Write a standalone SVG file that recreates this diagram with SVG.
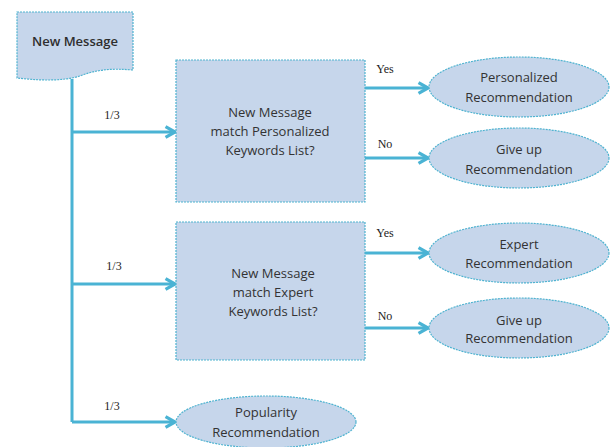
<svg xmlns="http://www.w3.org/2000/svg" width="613" height="447" viewBox="0 0 613 447">
  <style>
    .shape { fill: #c6d6eb; stroke: #4fb3d0; stroke-width: 1.2; stroke-dasharray: 2 1; }
    .txt { font-family: "Open Sans", "Liberation Sans", sans-serif; font-size: 13px; fill: #333333; text-anchor: middle; }
    .title { font-weight: 600; fill: #2e2e2e; }
    .lbl { font-family: "Liberation Serif", serif; font-size: 12px; fill: #222; text-anchor: middle; }
    .wire { fill: none; stroke: #4ab3d4; stroke-width: 3; }
    .arrow { fill: none; stroke: #4ab3d4; stroke-width: 3; marker-end: url(#head); }
  </style>
  <defs>
    <marker id="head" viewBox="0 0 10 10" refX="8.5" refY="5" markerWidth="4.5" markerHeight="4.5" orient="auto" markerUnits="strokeWidth">
      <path d="M1.5,1 L8.5,5 L1.5,9" fill="none" stroke="#4ab3d4" stroke-width="2.4" stroke-linejoin="miter"/>
    </marker>
  </defs>

  <rect width="613" height="447" fill="#ffffff"/>

  <!-- connectors -->
  <g id="connectors">
    <path class="wire" d="M72,79 V422"/>
    <path class="arrow" d="M72,422 H175"/>
    <path class="arrow" d="M72,132 H175"/>
    <path class="arrow" d="M72,284 H175"/>
    <path class="arrow" d="M365,88 H428"/>
    <path class="arrow" d="M365,158 H428"/>
    <path class="arrow" d="M365,253 H428"/>
    <path class="arrow" d="M365,328 H428"/>
    <text class="lbl" x="112" y="119">1/3</text>
    <text class="lbl" x="114" y="270">1/3</text>
    <text class="lbl" x="112" y="410">1/3</text>
    <text class="lbl" x="385" y="73">Yes</text>
    <text class="lbl" x="385" y="148">No</text>
    <text class="lbl" x="385" y="237">Yes</text>
    <text class="lbl" x="385" y="320">No</text>
  </g>

  <!-- start document -->
  <g id="new-message">
    <path class="shape" d="M17,12 H133 V70 C110,68 95,70 80,76 C60,82 35,80 17,78 Z"/>
    <text class="txt title" x="75" y="46">New  Message</text>
  </g>

  <!-- decisions -->
  <g id="personalized-check">
    <rect class="shape" x="176" y="60" width="189" height="142"/>
    <text class="txt" x="270" y="117">New Message</text>
    <text class="txt" x="270" y="136">match Personalized</text>
    <text class="txt" x="270" y="155">Keywords List?</text>
  </g>
  <g id="expert-check">
    <rect class="shape" x="176" y="222" width="189" height="138"/>
    <text class="txt" x="273" y="278">New Message</text>
    <text class="txt" x="273" y="297">match Expert</text>
    <text class="txt" x="273" y="316">Keywords List?</text>
  </g>

  <!-- outcomes -->
  <g id="personalized-rec">
    <ellipse class="shape" cx="519" cy="87" rx="90" ry="30"/>
    <text class="txt" x="519" y="82">Personalized</text>
    <text class="txt" x="519" y="102">Recommendation</text>
  </g>
  <g id="giveup-rec-1">
    <ellipse class="shape" cx="519" cy="158" rx="90" ry="30"/>
    <text class="txt" x="519" y="154">Give up</text>
    <text class="txt" x="519" y="174">Recommendation</text>
  </g>
  <g id="expert-rec">
    <ellipse class="shape" cx="519" cy="253" rx="90" ry="30"/>
    <text class="txt" x="519" y="249">Expert</text>
    <text class="txt" x="519" y="268">Recommendation</text>
  </g>
  <g id="giveup-rec-2">
    <ellipse class="shape" cx="519" cy="328" rx="90" ry="30"/>
    <text class="txt" x="519" y="325">Give up</text>
    <text class="txt" x="519" y="343">Recommendation</text>
  </g>
  <g id="popularity-rec">
    <ellipse class="shape" cx="266" cy="422" rx="90" ry="26"/>
    <text class="txt" x="266" y="417">Popularity</text>
    <text class="txt" x="266" y="437">Recommendation</text>
  </g>
</svg>
